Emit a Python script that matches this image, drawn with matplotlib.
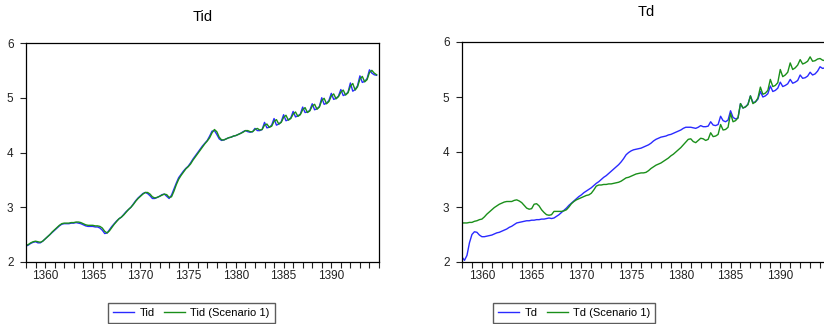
import numpy as np
import matplotlib.pyplot as plt
from matplotlib.ticker import MultipleLocator, FixedLocator

# quarterly data, 1358Q1 .. 1394Q4 (one row per year)
years = np.arange(1358, 1395)
major_years = [1360, 1365, 1370, 1375, 1380, 1385, 1390]

tid = [
    2.29, 2.31, 2.34, 2.36,
    2.37, 2.35, 2.35, 2.38,
    2.42, 2.46, 2.50, 2.54,
    2.58, 2.62, 2.66, 2.69,
    2.70, 2.70, 2.70, 2.71,
    2.71, 2.72, 2.71, 2.70,
    2.68, 2.66, 2.65, 2.65,
    2.65, 2.64, 2.64, 2.62,
    2.58, 2.52, 2.53, 2.59,
    2.65, 2.70, 2.75, 2.79,
    2.82, 2.87, 2.92, 2.96,
    3.00, 3.06, 3.12, 3.17,
    3.21, 3.25, 3.27, 3.25,
    3.21, 3.16, 3.16, 3.18,
    3.20, 3.23, 3.24, 3.20,
    3.16, 3.22, 3.33, 3.44,
    3.54, 3.60, 3.66, 3.71,
    3.75, 3.81, 3.88, 3.94,
    4.00, 4.06, 4.12, 4.17,
    4.22, 4.30, 4.39, 4.40,
    4.33, 4.25, 4.22, 4.23,
    4.25, 4.27, 4.28, 4.30,
    4.31, 4.33, 4.35, 4.38,
    4.40, 4.38, 4.37, 4.38,
    4.44, 4.40, 4.40, 4.42,
    4.55, 4.45, 4.46, 4.50,
    4.62, 4.50, 4.52, 4.56,
    4.69, 4.58, 4.60, 4.63,
    4.75, 4.65, 4.67, 4.70,
    4.83, 4.73, 4.74, 4.77,
    4.89, 4.78, 4.80, 4.84,
    5.00, 4.88, 4.90, 4.95,
    5.08, 4.97, 4.99, 5.03,
    5.15, 5.04, 5.06, 5.10,
    5.27, 5.12, 5.15, 5.22,
    5.40, 5.28, 5.30, 5.35,
    5.51, 5.45, 5.42, 5.41,
]

tid_s1 = [
    2.30, 2.32, 2.35, 2.37,
    2.38, 2.37, 2.36, 2.38,
    2.42, 2.46, 2.50, 2.55,
    2.59, 2.63, 2.67, 2.70,
    2.71, 2.71, 2.71, 2.72,
    2.72, 2.73, 2.73, 2.72,
    2.70, 2.68, 2.67, 2.67,
    2.67, 2.66, 2.66, 2.65,
    2.62, 2.56, 2.53, 2.57,
    2.63, 2.69, 2.74, 2.79,
    2.82, 2.86, 2.91, 2.96,
    3.00, 3.05, 3.11, 3.16,
    3.20, 3.24, 3.27, 3.27,
    3.24, 3.19, 3.17, 3.18,
    3.20, 3.22, 3.24, 3.23,
    3.18, 3.19, 3.29, 3.41,
    3.51, 3.58, 3.64, 3.70,
    3.74, 3.79, 3.86, 3.92,
    3.98, 4.04, 4.10, 4.16,
    4.21, 4.27, 4.36, 4.42,
    4.38, 4.28, 4.23, 4.23,
    4.25, 4.27, 4.28, 4.30,
    4.31, 4.33, 4.35, 4.37,
    4.40, 4.40, 4.38, 4.38,
    4.42, 4.44, 4.41, 4.42,
    4.50, 4.52, 4.46, 4.48,
    4.57, 4.60, 4.52, 4.55,
    4.64, 4.68, 4.59, 4.62,
    4.70, 4.74, 4.66, 4.69,
    4.78, 4.82, 4.73, 4.76,
    4.85, 4.88, 4.79, 4.83,
    4.95, 4.99, 4.89, 4.93,
    5.03, 5.07, 4.98, 5.02,
    5.10, 5.14, 5.05, 5.09,
    5.21, 5.26, 5.14, 5.20,
    5.34, 5.39, 5.29, 5.33,
    5.46, 5.50, 5.45, 5.42,
]

td = [
    2.09, 2.03, 2.12, 2.35,
    2.50, 2.55, 2.54, 2.49,
    2.46, 2.46, 2.47, 2.48,
    2.49, 2.51, 2.53, 2.54,
    2.56, 2.58, 2.60, 2.63,
    2.65, 2.68, 2.71, 2.72,
    2.73, 2.74, 2.75, 2.75,
    2.76, 2.76, 2.77, 2.77,
    2.78, 2.78, 2.79, 2.80,
    2.79, 2.80, 2.83, 2.86,
    2.90, 2.94, 2.98, 3.03,
    3.07, 3.11, 3.15, 3.19,
    3.22, 3.26, 3.29, 3.32,
    3.35, 3.39, 3.43, 3.46,
    3.50, 3.54, 3.57, 3.61,
    3.65, 3.69, 3.73, 3.77,
    3.82, 3.88, 3.95, 3.99,
    4.02, 4.04, 4.05, 4.06,
    4.07, 4.09, 4.11, 4.13,
    4.16, 4.20, 4.23, 4.25,
    4.27, 4.28, 4.29, 4.31,
    4.32, 4.34, 4.36, 4.38,
    4.40, 4.43, 4.45, 4.45,
    4.45, 4.44, 4.43, 4.45,
    4.48, 4.46, 4.46, 4.47,
    4.55, 4.49, 4.48, 4.50,
    4.65, 4.57, 4.55, 4.58,
    4.75, 4.63, 4.60, 4.62,
    4.88, 4.80, 4.82, 4.87,
    5.02, 4.90, 4.91, 4.96,
    5.10, 5.00, 5.02, 5.06,
    5.20, 5.10, 5.12, 5.16,
    5.27, 5.19, 5.21, 5.24,
    5.32, 5.25, 5.27, 5.30,
    5.40, 5.34, 5.35, 5.38,
    5.45, 5.40, 5.42, 5.47,
    5.55, 5.52, 5.53, 5.54,
]

td_s1 = [
    2.71, 2.71, 2.71, 2.72,
    2.72, 2.74, 2.75, 2.77,
    2.78, 2.82, 2.87, 2.91,
    2.95, 2.99, 3.02, 3.05,
    3.07, 3.09, 3.10, 3.10,
    3.10, 3.12, 3.13, 3.11,
    3.08, 3.03, 2.98, 2.96,
    2.97, 3.05, 3.06, 3.02,
    2.95, 2.90, 2.86, 2.85,
    2.86, 2.92, 2.92, 2.92,
    2.92, 2.93, 2.95, 3.00,
    3.06, 3.10, 3.13, 3.15,
    3.17, 3.19, 3.21, 3.22,
    3.25, 3.31, 3.38, 3.40,
    3.40, 3.41, 3.41, 3.42,
    3.42, 3.43, 3.44, 3.45,
    3.47, 3.50, 3.53, 3.54,
    3.56, 3.58, 3.60, 3.61,
    3.62, 3.62, 3.63, 3.66,
    3.70, 3.73, 3.76, 3.78,
    3.80, 3.83, 3.86, 3.89,
    3.93, 3.96, 4.00, 4.04,
    4.08, 4.13, 4.18, 4.23,
    4.24, 4.19, 4.17, 4.21,
    4.25, 4.24, 4.21, 4.23,
    4.35, 4.28, 4.29, 4.32,
    4.50, 4.40, 4.41, 4.45,
    4.70, 4.55, 4.57, 4.62,
    4.88, 4.80, 4.82, 4.86,
    5.02, 4.88, 4.91, 4.98,
    5.18, 5.05, 5.07, 5.12,
    5.32, 5.19, 5.21, 5.26,
    5.50, 5.37, 5.40, 5.45,
    5.62, 5.50, 5.53, 5.58,
    5.68, 5.60, 5.62, 5.65,
    5.73, 5.65, 5.66, 5.69,
    5.70, 5.67, 5.66, 5.67,
]

t = (years[:, None] + np.array([0, 0.25, 0.5, 0.75])[None, :]).ravel()

plt.rcParams['font.family'] = ['Liberation Sans', 'DejaVu Sans']

fig = plt.figure(figsize=(8.24, 3.24), dpi=100)
ax1 = fig.add_axes([26/824, 62/324, 353/824, 219/324])
ax2 = fig.add_axes([462/824, 62/324, 368/824, 220/324])

blue = '#2a2aff'
green = '#1a8f1a'

panels = [
    (ax1, tid, tid_s1, 'Tid', 'Tid (Scenario 1)', 108, 16),
    (ax2, td, td_s1, 'Td', 'Td (Scenario 1)', 493, 19),
]

for ax, a, b, name, name_s, lx, tpad in panels:
    l1, = ax.plot(t, a, color=blue, lw=1.0, label=name)
    l2, = ax.plot(t, b, color=green, lw=1.0, label=name_s)
    ax.set_xlim(1358, 1395)
    ax.set_ylim(2, 6)
    ax.xaxis.set_major_locator(FixedLocator(major_years))
    ax.xaxis.set_minor_locator(MultipleLocator(1))
    ax.yaxis.set_major_locator(MultipleLocator(1))
    ax.tick_params(which='both', direction='out', length=4, width=0.8,
                   labelsize=8.5, colors='#222222', pad=2)
    ax.tick_params(axis='y', pad=5)
    for s in ax.spines.values():
        s.set_linewidth(0.9)
    ax.set_title(name, fontsize=10.5, pad=tpad)
    fig.legend(handles=[l1, l2], loc='upper left',
               bbox_to_anchor=(lx/824, 1 - 303/324), ncol=2,
               fontsize=8, frameon=True, fancybox=False, edgecolor='#333333',
               handlelength=1.9, columnspacing=0.8, handletextpad=0.5,
               borderaxespad=0, borderpad=0.45)

fig.savefig('out.png', dpi=100)
